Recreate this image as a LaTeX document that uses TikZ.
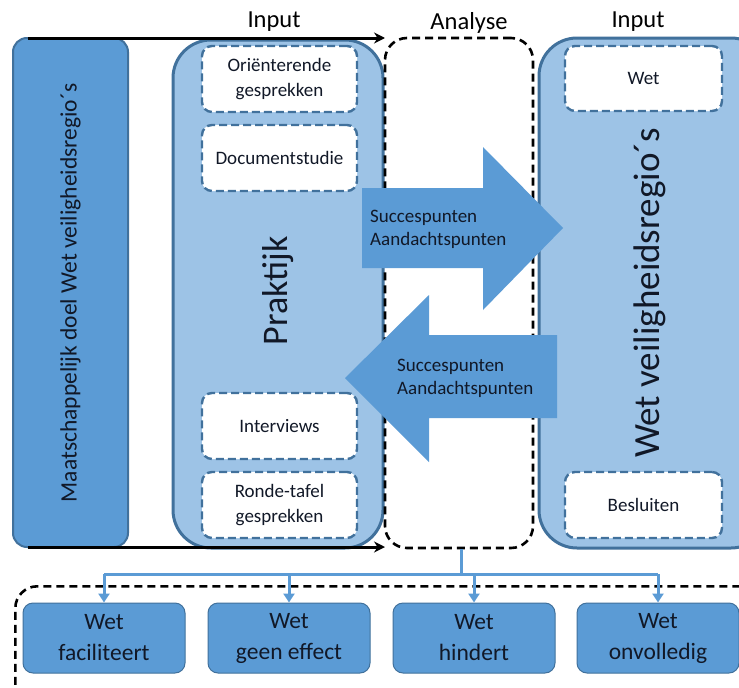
\documentclass[tikz,border=0pt]{standalone}
\usepackage{fontspec}
\setmainfont{Carlito}
\usetikzlibrary{arrows.meta}
\definecolor{dblue}{HTML}{5B9BD5}
\definecolor{bord}{HTML}{41719C}
\definecolor{lblue}{HTML}{9DC3E6}
\definecolor{txt}{HTML}{111827}
\tikzset{
  bigbox/.style={draw=bord,line width=3pt,fill=lblue,rounded corners=38pt,inner sep=0pt},
  leftbox/.style={draw=bord,line width=2pt,fill=dblue,rounded corners=14pt,inner sep=0pt},
  inbox/.style={draw=bord,line width=2.4pt,dash pattern=on 8pt off 4pt,fill=white,rounded corners=10pt,inner sep=0pt,minimum width=155pt,minimum height=66pt,align=center,font=\fontsize{19}{25}\selectfont,text=txt},
  anbox/.style={draw=black,line width=2.6pt,dash pattern=on 8pt off 5pt,rounded corners=22pt,inner sep=0pt},
  outbox/.style={draw=bord,line width=1pt,fill=dblue,rounded corners=10pt,inner sep=0pt,minimum width=162pt,minimum height=70pt,align=center,font=\fontsize{23.5}{31}\selectfont,text=txt},
  bigarrow/.style={fill=dblue,draw=none},
  arrtext/.style={align=left,font=\fontsize{19}{23}\selectfont,text=txt,inner sep=0pt},
  lbl/.style={font=\fontsize{24.5}{28}\selectfont,text=black,inner sep=0pt},
  blink/.style={draw=dblue,line width=3pt},
  blarrow/.style={draw=dblue,line width=3pt,-{Triangle[length=9pt,width=11pt]}},
  karrow/.style={draw=black,line width=3pt,-{Stealth[length=11pt,width=11pt]}}
}
\begin{document}
\begin{tikzpicture}[x=1pt,y=-1pt]
\useasboundingbox (0,0) rectangle (739,688);
\clip (0,0) rectangle (739,688);
\fill[white] (0,0) rectangle (739,688);

% bottom dashed group
\node[anbox,minimum width=760pt,minimum height=140pt,anchor=north west] (grp) at (14,585) {};

% left box
\node[leftbox,minimum width=115pt,minimum height=509pt] (doel) at (70.5,292.5) {};
\node[rotate=90,font=\fontsize{23.5}{27}\selectfont,text=txt] (doeltxt) at (70.5,293) {Maatschappelijk doel Wet veiligheidsregio´s};

% praktijk box
\node[bigbox,minimum width=210pt,minimum height=508pt] (prak) at (278,294) {};
\node[rotate=90,font=\fontsize{36}{40}\selectfont,text=txt] (praktxt) at (278,291) {Praktijk};
\node[inbox] (or) at (279.5,79) {Oriënterende\\gesprekken};
\node[inbox] (doc) at (279.5,158) {Documentstudie};
\node[inbox] (int) at (279.5,426) {Interviews};
\node[inbox] (rt) at (279.5,505) {Ronde-tafel\\gesprekken};

% analyse box
\node[anbox,minimum width=148pt,minimum height=510pt] (an) at (459,293) {};

% right box
\node[bigbox,minimum width=230pt,minimum height=510pt] (wet) at (654,293) {};
\node[rotate=90,font=\fontsize{37}{40}\selectfont,text=txt] (wettxt) at (650,293) {Wet veiligheidsregio´s};
\node[inbox,minimum width=157pt,minimum height=65pt] (wetb) at (643.5,78.5) {Wet};
\node[inbox,minimum width=157pt,minimum height=66pt] (bes) at (643.5,505) {Besluiten};

% labels
\node[lbl] (in1) at (274,22) {Input};
\node[lbl] (anl) at (469,23) {Analyse};
\node[lbl] (in2) at (638,22) {Input};

% black arrows
\coordinate (t0) at (28,38);
\coordinate (t1) at (385,38);
\coordinate (b0) at (28,547);
\coordinate (b1) at (385,547);
\draw[karrow] (t0) -- (t1);
\draw[karrow] (b0) -- (b1);

% big arrows
\fill[bigarrow] (362,188) -- (483,188) -- (483,147) -- (563,228) -- (483,310) -- (483,268) -- (362,268) -- cycle;
\node[arrtext,anchor=west] (a1) at (370,229) {Succespunten\\Aandachtspunten};
\fill[bigarrow] (557,335) -- (429,335) -- (429,295) -- (345,378) -- (429,462) -- (429,418) -- (557,418) -- cycle;
\node[arrtext,anchor=west] (a2) at (397,378) {Succespunten\\Aandachtspunten};

% bottom boxes
\node[outbox] (f1) at (104,638) {Wet\\faciliteert};
\node[outbox] (f2) at (289,638) {Wet\\geen effect};
\node[outbox] (f3) at (474,638) {Wet\\hindert};
\node[outbox] (f4) at (658,638) {Wet\\onvolledig};

% blue connectors
\coordinate (split) at (461,574);
\coordinate (hl) at (104,574);
\coordinate (hr) at (658,574);
\draw[blink] (an.south -| split) -- (split);
\draw[blink] (hl) -- (hr);
\draw[blarrow] (hl) -- (f1.north);
\draw[blarrow] (f2.north |- hl) -- (f2.north);
\draw[blarrow] (f3.north |- hl) -- (f3.north);
\draw[blarrow] (hr) -- (f4.north);
\end{tikzpicture}
\end{document}
